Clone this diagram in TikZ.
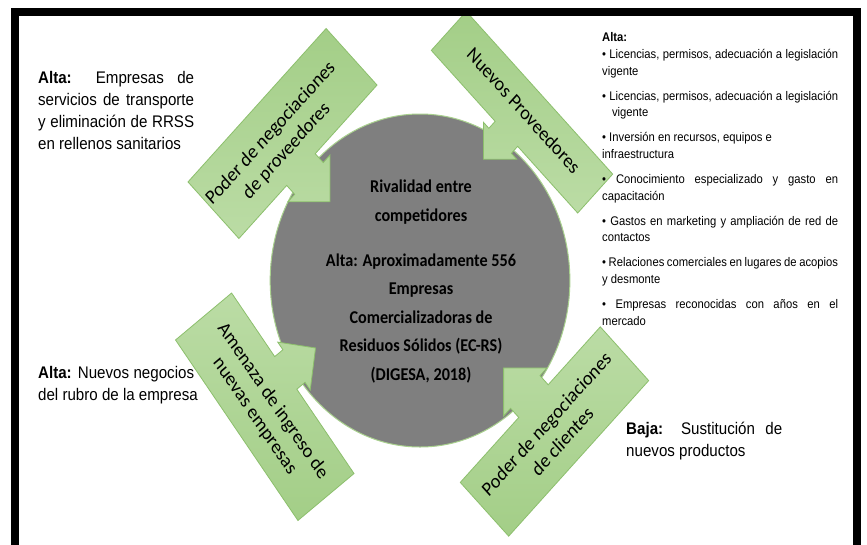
\documentclass[tikz,border=0pt]{standalone}
\usepackage{fontspec}
\setmainfont{Liberation Sans}
\newfontfamily\calibri{Carlito}

\definecolor{arrowdark}{HTML}{A3CE87}
\definecolor{arrowlight}{HTML}{BBDCA5}
\definecolor{arrowedge}{HTML}{8CBF6C}
\definecolor{discgray}{HTML}{7F7F7F}
\definecolor{discedge}{HTML}{A9D18E}

\tikzset{
  arrowbox/.style={left color=arrowdark, right color=arrowlight, draw=arrowedge, line width=0.8pt, line join=miter},
  arrowtext/.style={font=\calibri\fontsize{20.2}{25}\selectfont, align=center, inner sep=0pt},
  disctext/.style={font=\calibri\bfseries\fontsize{18}{28.5}\selectfont, align=center, inner sep=0pt},
  sidetext/.style={font=\fontsize{16.8}{22}\selectfont, align=left, anchor=north west, inner sep=0pt},
  listtext/.style={font=\fontsize{12.5}{16.7}\selectfont, align=left, anchor=north west, inner sep=0pt},
}

% Box with an arrow head on one long side:
% #1 centre, #2 angle, #3 length, #4 width, #5 head base, #6 head offset along the box,
% #7 shading angle
\newcommand{\calloutarrow}[7]{%
  \begin{scope}[shift={#1}, rotate=#2]
    \path[arrowbox, shading angle=#7]
      ({-#3/2},{-#4/2}) -- ({#3/2},{-#4/2}) -- ({#3/2},{#4/2})
      -- ({#6+0.34*#5},{#4/2}) -- ({#6+0.34*#5},{#4/2+0.19*#5})
      -- ({#6+#5/2},{#4/2+0.19*#5}) -- ({#6},{#4/2+0.69*#5})
      -- ({#6-#5/2},{#4/2+0.19*#5}) -- ({#6-0.34*#5},{#4/2+0.19*#5})
      -- ({#6-0.34*#5},{#4/2}) -- ({-#3/2},{#4/2}) -- cycle;
  \end{scope}}

\begin{document}
\begin{tikzpicture}[x=1pt, y=-1pt]
\useasboundingbox (0,0) rectangle (867,544);
\clip (0,0) rectangle (867,544);
\fill[white] (0,0) rectangle (867,544);

\begin{scope}[xscale=0.9, transform shape]
  % central disc
  \node[circle, minimum size=333pt, inner sep=0pt, fill=discgray, draw=discedge, line width=1pt] (disc) at (466.7,280.5) {};

  % the four forces
  \calloutarrow{(313.9,133.5)}{45}{217}{80}{66}{-11}{0}
  \calloutarrow{(580,112.25)}{-45}{230}{55}{52}{3}{0}
  \calloutarrow{(294.2,406.75)}{127}{226}{78}{60}{13}{180}
  \calloutarrow{(616.1,431.5)}{225}{220}{76}{68}{-5}{180}

  \node[arrowtext, rotate=45] (proveedores) at (309.7,142.1) {Poder de negociaciones\\de proveedores};
  \node[arrowtext, rotate=-45] (nuevos) at (582,110.5) {Nuevos Proveedores};
  \node[arrowtext, rotate=-53] (amenaza) at (293,408.5) {Amenaza de ingreso de\\nuevas empresas};
  \node[arrowtext, rotate=45] (clientes) at (615.8,432.4) {Poder de negociaciones\\de clientes};

  % text inside the disc
  \node[disctext] (rival) at (467.8,202.3) {Rivalidad entre\\competidores};
  \node[disctext] (empresas) at (467.8,318.5) {Alta: Aproximadamente 556\\Empresas\\Comercializadoras de\\Residuos Sólidos (EC-RS)\\(DIGESA, 2018)};

  % side notes
  \node[sidetext] (notaprov) at (42.2,71.5) {%
    \makebox[173.3pt][s]{\textbf{Alta:} Empresas de}\\
    \makebox[173.3pt][s]{servicios de transporte}\\
    \makebox[173.3pt][s]{y eliminación de RRSS}\\
    en rellenos sanitarios};
  \node[sidetext] (notaamen) at (42.2,366.5) {%
    \makebox[173.3pt][s]{\textbf{Alta:} Nuevos negocios}\\
    del rubro de la empresa};
  \node[sidetext] (notacli) at (695.6,422) {%
    \makebox[173.3pt][s]{\textbf{Baja:} Sustitución de}\\
    nuevos productos};

  \node[listtext] (lista) at (668.9,32.5) {%
    \textbf{Alta:}\\
    \makebox[262.2pt][s]{• Licencias, permisos, adecuación a legislación}\\
    vigente\\[8.3pt]
    \makebox[262.2pt][s]{• Licencias, permisos, adecuación a legislación}\\
    \hspace*{11pt}vigente\\[8.3pt]
    • Inversión en recursos, equipos e\\
    infraestructura\\[8.3pt]
    \makebox[262.2pt][s]{• Conocimiento especializado y gasto en}\\
    capacitación\\[8.3pt]
    \makebox[262.2pt][s]{• Gastos en marketing y ampliación de red de}\\
    contactos\\[8.3pt]
    \makebox[262.2pt][s]{• Relaciones comerciales en lugares de acopios}\\
    y desmonte\\[8.3pt]
    \makebox[262.2pt][s]{• Empresas reconocidas con años en el}\\
    mercado};
\end{scope}

% outer frame
\draw[line width=8pt] (15,12) rectangle (857,580);
\end{tikzpicture}
\end{document}
